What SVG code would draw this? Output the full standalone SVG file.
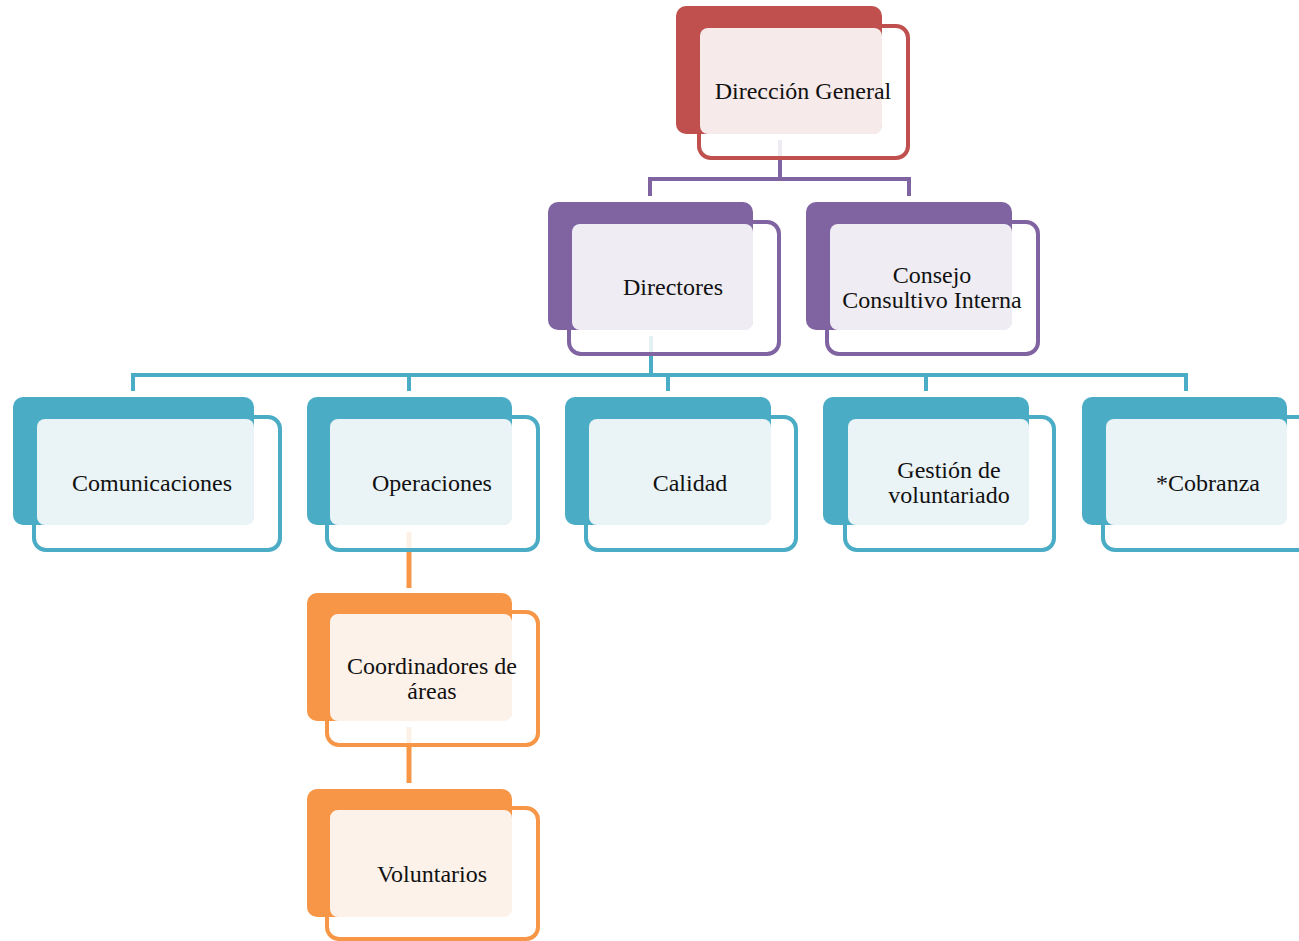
<svg xmlns="http://www.w3.org/2000/svg" width="1299" height="941" viewBox="0 0 1299 941">
<style>
text{font-family:"Liberation Serif","Times New Roman",serif;font-size:24px;fill:#111;text-anchor:middle}
.ol{fill:#fff;stroke-width:4}
.red .bk{fill:#c0504d}.red .ol{stroke:#c0504d}.red .lt{fill:#f6eaea}
.pur .bk{fill:#8064a2}.pur .ol{stroke:#8064a2}.pur .lt{fill:#efedf3}
.tea .bk{fill:#4bacc6}.tea .ol{stroke:#4bacc6}.tea .lt{fill:#eaf4f7}
.ora .bk{fill:#f79646}.ora .ol{stroke:#f79646}.ora .lt{fill:#fdf2ea}
.c{fill:none;stroke-width:4;stroke-linecap:butt}
.f{stroke-width:4}
</style>
<rect width="1299" height="941" fill="#fff"/>
<g id="connectors">
  <path class="c" stroke="#8064a2" d="M780 158V179M650 196V179H909V196"/>
  <path class="c" stroke="#4bacc6" d="M651 354V375M133 391V375H1186V391M409 375V391M668 375V391M926 375V391"/>
  <line x1="409" y1="551" x2="409" y2="588" stroke="#f79646" stroke-width="5"/>
  <line x1="409" y1="746" x2="409" y2="783" stroke="#f79646" stroke-width="5"/>
</g>
<g id="direccion" class="red">
  <rect class="ol" x="699" y="26" width="209" height="132" rx="12"/>
  <rect class="bk" x="676" y="6" width="206" height="128" rx="10"/>
  <rect class="lt" x="700" y="28" width="182" height="106" rx="8"/>
  <text x="803" y="99">Dirección General</text>
</g>
<g id="directores" class="pur">
  <rect class="ol" x="569" y="222" width="210" height="132" rx="12"/>
  <rect class="bk" x="548" y="202" width="205" height="128" rx="10"/>
  <rect class="lt" x="572" y="224" width="181" height="106" rx="8"/>
  <text x="673" y="295">Directores</text>
</g>
<g id="consejo" class="pur">
  <rect class="ol" x="827" y="222" width="211" height="132" rx="12"/>
  <rect class="bk" x="806" y="202" width="206" height="128" rx="10"/>
  <rect class="lt" x="830" y="224" width="182" height="106" rx="8"/>
  <text x="932" y="283">Consejo</text>
  <text x="932" y="308">Consultivo Interna</text>
</g>
<g id="comunicaciones" class="tea">
  <rect class="ol" x="34" y="417" width="246" height="133" rx="12"/>
  <rect class="bk" x="13" y="397" width="241" height="128" rx="10"/>
  <rect class="lt" x="37" y="419" width="217" height="106" rx="8"/>
  <text x="152" y="491">Comunicaciones</text>
</g>
<g id="operaciones" class="tea">
  <rect class="ol" x="327" y="417" width="211" height="133" rx="12"/>
  <rect class="bk" x="307" y="397" width="205" height="128" rx="10"/>
  <rect class="lt" x="330" y="419" width="182" height="106" rx="8"/>
  <text x="432" y="491">Operaciones</text>
</g>
<g id="calidad" class="tea">
  <rect class="ol" x="586" y="417" width="210" height="133" rx="12"/>
  <rect class="bk" x="565" y="397" width="206" height="128" rx="10"/>
  <rect class="lt" x="589" y="419" width="182" height="106" rx="8"/>
  <text x="690" y="491">Calidad</text>
</g>
<g id="gestion" class="tea">
  <rect class="ol" x="845" y="417" width="209" height="133" rx="12"/>
  <rect class="bk" x="823" y="397" width="206" height="128" rx="10"/>
  <rect class="lt" x="848" y="419" width="181" height="106" rx="8"/>
  <text x="949" y="478">Gestión de</text>
  <text x="949" y="503">voluntariado</text>
</g>
<g id="cobranza" class="tea">
  <rect class="ol" x="1103" y="417" width="212" height="133" rx="12"/>
  <rect class="bk" x="1082" y="397" width="205" height="128" rx="10"/>
  <rect class="lt" x="1106" y="419" width="181" height="106" rx="8"/>
  <text x="1208" y="491">*Cobranza</text>
</g>
<g id="coordinadores" class="ora">
  <rect class="ol" x="327" y="612" width="211" height="133" rx="12"/>
  <rect class="bk" x="307" y="593" width="205" height="128" rx="10"/>
  <rect class="lt" x="330" y="614" width="182" height="107" rx="8"/>
  <text x="432" y="674">Coordinadores de</text>
  <text x="432" y="699">áreas</text>
</g>
<g id="voluntarios" class="ora">
  <rect class="ol" x="327" y="808" width="211" height="131" rx="12"/>
  <rect class="bk" x="307" y="789" width="205" height="128" rx="10"/>
  <rect class="lt" x="330" y="810" width="182" height="107" rx="8"/>
  <text x="432" y="882">Voluntarios</text>
</g>
<g id="connector-stubs">
  <line class="f" x1="780" y1="140" x2="780" y2="156" stroke="#eeebf3"/>
  <line class="f" x1="651" y1="336" x2="651" y2="352" stroke="#e3f1f5"/>
  <line x1="409" y1="532" x2="409" y2="548" stroke="#fdf0e6" stroke-width="5"/>
  <line x1="409" y1="727" x2="409" y2="743" stroke="#fdf0e6" stroke-width="5"/>
</g>
</svg>
